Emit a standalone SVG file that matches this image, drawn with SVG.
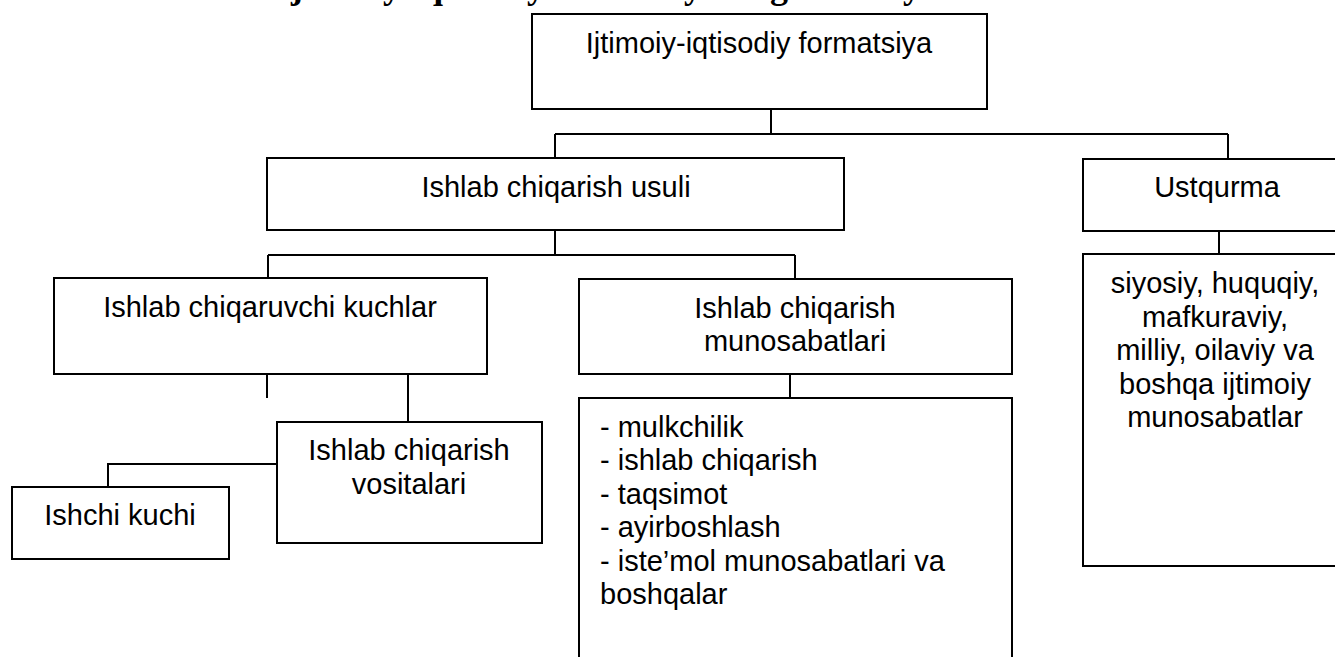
<svg xmlns="http://www.w3.org/2000/svg" width="1335" height="657" viewBox="0 0 1335 657">
<style>
.box{fill:#fff;stroke:#000;stroke-width:2}
.ln{fill:none;stroke:#000;stroke-width:2}
.t{font-family:"Liberation Sans",Arial,sans-serif;font-size:29px;fill:#000}
.c{text-anchor:middle}
.title{font-family:"Liberation Serif","Times New Roman",serif;font-weight:bold;font-size:36px;fill:#000}
</style>
<rect width="1335" height="657" fill="#fff"/>
<text class="title" x="277" y="-2.5">Ijtimoiy-iqtisodiy formatsiyaning tarkibiy tuzilishi</text>
<g id="connectors">
<path class="ln" d="M771 109V134M555 134H1228M555 134V158M1228 134V159"/>
<path class="ln" d="M555 230V255M268 255H795M268 255V278M795 255V279"/>
<path class="ln" d="M1219 231V254"/>
<path class="ln" d="M267 374V398M408 374V422"/>
<path class="ln" d="M279 464H108V487"/>
<path class="ln" d="M790 374V398"/>
</g>
<g id="n-formatsiya">
<rect class="box" x="532" y="14" width="455" height="95"/>
<text class="t c" x="759" y="53">Ijtimoiy-iqtisodiy formatsiya</text>
</g>
<g id="n-usuli">
<rect class="box" x="267" y="158" width="577" height="72"/>
<text class="t c" x="556" y="197">Ishlab chiqarish usuli</text>
</g>
<g id="n-ustqurma">
<rect class="box" x="1083" y="159" width="268" height="72"/>
<text class="t c" x="1217" y="197">Ustqurma</text>
</g>
<g id="n-kuchlar">
<rect class="box" x="54" y="278" width="433" height="96"/>
<text class="t c" x="270" y="317">Ishlab chiqaruvchi kuchlar</text>
</g>
<g id="n-munosabatlari">
<rect class="box" x="579" y="279" width="433" height="95"/>
<text class="t c" x="795" y="318">Ishlab chiqarish</text>
<text class="t c" x="795" y="351">munosabatlari</text>
</g>
<g id="n-vositalari">
<rect class="box" x="277" y="422" width="265" height="121"/>
<text class="t c" x="409" y="460">Ishlab chiqarish</text>
<text class="t c" x="409" y="494">vositalari</text>
</g>
<g id="n-ishchi">
<rect class="box" x="12" y="487" width="217" height="72"/>
<text class="t c" x="120" y="525">Ishchi kuchi</text>
</g>
<g id="n-list">
<rect class="box" x="579" y="398" width="433" height="300"/>
<text class="t" x="600" y="437">- mulkchilik</text>
<text class="t" x="600" y="470">- ishlab chiqarish</text>
<text class="t" x="600" y="504">- taqsimot</text>
<text class="t" x="600" y="537">- ayirboshlash</text>
<text class="t" x="600" y="571">- iste’mol munosabatlari va</text>
<text class="t" x="600" y="604">boshqalar</text>
</g>
<g id="n-siyosiy">
<rect class="box" x="1083" y="254" width="268" height="312"/>
<text class="t c" x="1215" y="293">siyosiy, huquqiy,</text>
<text class="t c" x="1215" y="327">mafkuraviy,</text>
<text class="t c" x="1215" y="360">milliy, oilaviy va</text>
<text class="t c" x="1215" y="394">boshqa ijtimoiy</text>
<text class="t c" x="1215" y="427">munosabatlar</text>
</g>
</svg>
